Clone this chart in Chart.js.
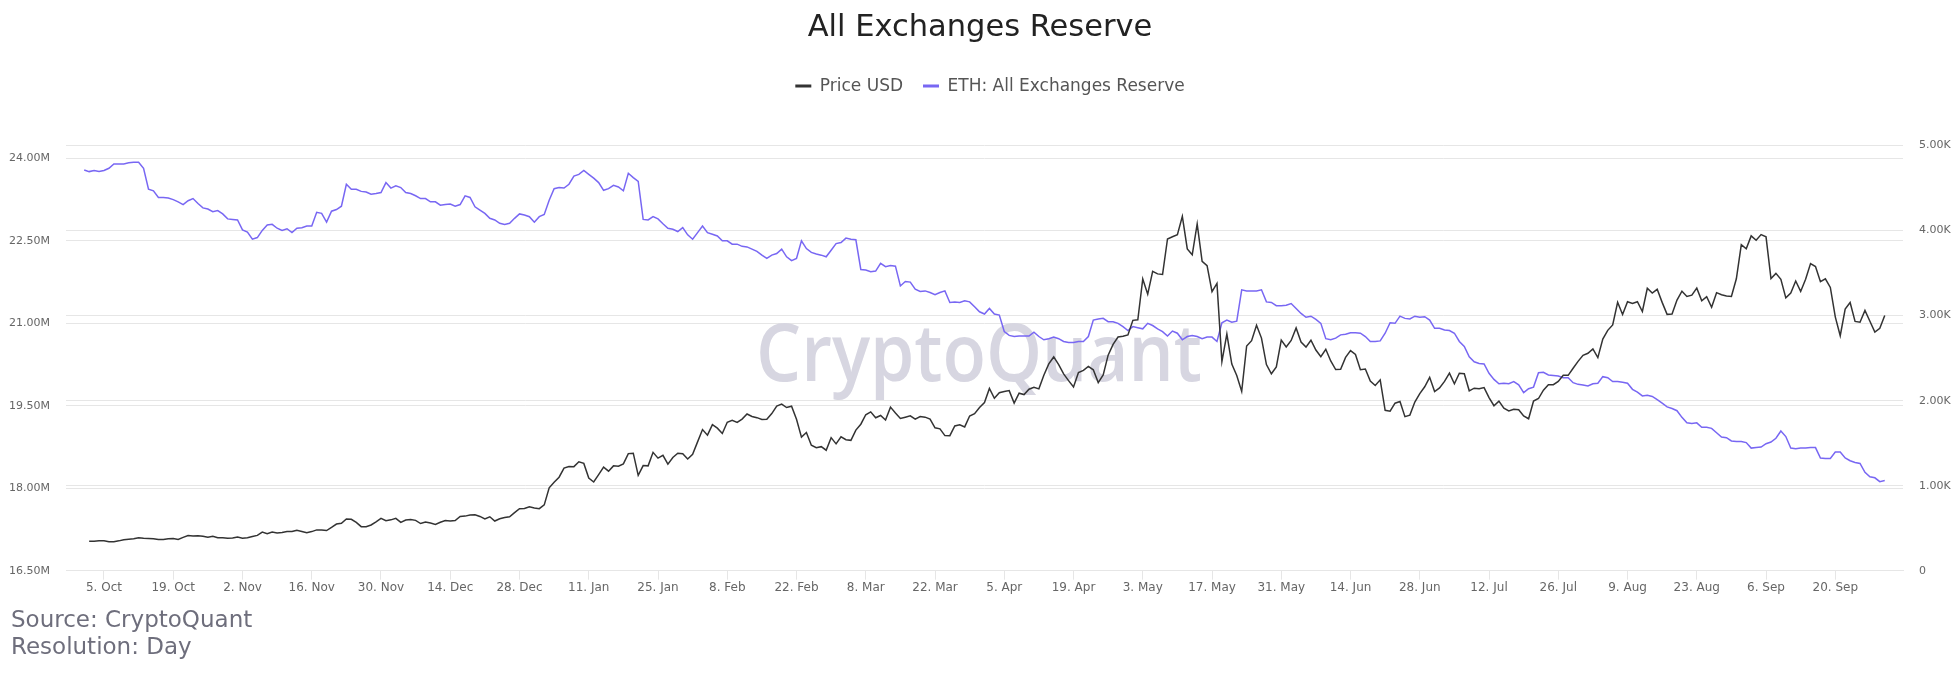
<!DOCTYPE html>
<html lang="en">
<head>
<meta charset="UTF-8">
<title>All Exchanges Reserve</title>
<style>
    html, body {
        margin: 0;
        padding: 0;
        background-color: #ffffff;
    }
    #wrap {
        width: 1960px;
        height: 680px;
    }
</style>
</head>
<body>
<div id="wrap"><canvas id="reserveChart" width="1960" height="680"></canvas></div>

<script src="https://cdn.jsdelivr.net/npm/chart.js"></script>
<script>
// day 0 = 1 Oct 2020, one value per day up to 30 Sep 2021
const tickDays = [4, 18, 32, 46, 60, 74, 88, 102, 116, 130, 144, 158, 172,
    186, 200, 214, 228, 242, 256, 270, 284, 298, 312, 326, 340, 354];
const tickLabels = ['5. Oct', '19. Oct', '2. Nov', '16. Nov', '30. Nov', '14. Dec', '28. Dec',
    '11. Jan', '25. Jan', '8. Feb', '22. Feb', '8. Mar', '22. Mar', '5. Apr', '19. Apr',
    '3. May', '17. May', '31. May', '14. Jun', '28. Jun', '12. Jul', '26. Jul',
    '9. Aug', '23. Aug', '6. Sep', '20. Sep'];

const reserveTicks = [16.5, 18, 19.5, 21, 22.5, 24];   // millions ETH
const priceTicks = [0, 1000, 2000, 3000, 4000, 5000];   // USD

// ETH price, USD
const priceUsd = [
    null, 346, 347, 353, 353, 341, 341, 351, 365, 370,
    375, 387, 381, 379, 377, 366, 368, 377, 379, 368,
    392, 414, 409, 412, 406, 393, 404, 388, 387, 383,
    386, 396, 383, 388, 402, 415, 454, 435, 454, 444,
    449, 462, 462, 475, 461, 447, 460, 480, 479, 472,
    509, 549, 558, 609, 604, 568, 518, 518, 538, 575,
    615, 587, 598, 616, 569, 596, 601, 592, 555, 573,
    560, 545, 569, 590, 586, 589, 637, 642, 654, 658,
    638, 608, 634, 584, 611, 626, 635, 683, 730, 731,
    751, 737, 730, 774, 975, 1040, 1100, 1207, 1225, 1224,
    1281, 1262, 1090, 1043, 1130, 1218, 1171, 1233, 1230, 1257,
    1377, 1382, 1121, 1236, 1233, 1392, 1324, 1357, 1253, 1332,
    1382, 1376, 1314, 1369, 1515, 1660, 1594, 1718, 1677, 1614,
    1746, 1768, 1744, 1783, 1843, 1814, 1800, 1779, 1781, 1848,
    1937, 1960, 1919, 1935, 1781, 1571, 1626, 1475, 1446, 1459,
    1417, 1565, 1492, 1575, 1541, 1533, 1654, 1723, 1834, 1868,
    1799, 1826, 1772, 1924, 1855, 1791, 1806, 1822, 1782, 1814,
    1806, 1783, 1681, 1669, 1589, 1588, 1702, 1716, 1691, 1819,
    1846, 1919, 1977, 2143, 2028, 2093, 2107, 2118, 1971, 2088,
    2072, 2135, 2158, 2139, 2299, 2432, 2514, 2423, 2314, 2236,
    2161, 2330, 2357, 2403, 2363, 2213, 2303, 2535, 2662, 2748,
    2757, 2773, 2945, 2952, 3431, 3253, 3522, 3491, 3484, 3902,
    3928, 3952, 4168, 3785, 3716, 4079, 3638, 3587, 3283, 3380,
    2460, 2784, 2430, 2296, 2109, 2643, 2706, 2888, 2736, 2424,
    2316, 2396, 2712, 2632, 2708, 2855, 2689, 2630, 2711, 2595,
    2517, 2604, 2467, 2366, 2370, 2509, 2589, 2544, 2365, 2372,
    2231, 2179, 2245, 1887, 1876, 1970, 1990, 1812, 1830, 1983,
    2083, 2163, 2275, 2107, 2150, 2226, 2323, 2198, 2323, 2316,
    2116, 2147, 2139, 2154, 2036, 1940, 1995, 1911, 1880, 1898,
    1894, 1820, 1787, 1995, 2025, 2124, 2186, 2188, 2227, 2299,
    2298, 2381, 2462, 2534, 2557, 2608, 2506, 2725, 2827, 2890,
    3157, 3013, 3163, 3142, 3164, 3049, 3322, 3266, 3310, 3156,
    3015, 3020, 3183, 3287, 3225, 3241, 3323, 3174, 3224, 3099,
    3270, 3245, 3230, 3226, 3433, 3834, 3787, 3938, 3887, 3953,
    3927, 3436, 3497, 3427, 3209, 3266, 3407, 3285, 3429, 3612,
    3578, 3400, 3433, 3331, 2986, 2764, 3078, 3155, 2932, 2923,
    3062, 2934, 2806, 2852, 3001
];

// ETH held on all exchanges, millions
const reserveM = [
    23.79, 23.76, 23.78, 23.76, 23.78, 23.82, 23.90, 23.90, 23.90, 23.92,
    23.93, 23.93, 23.82, 23.44, 23.41, 23.29, 23.29, 23.28, 23.25, 23.21,
    23.16, 23.23, 23.27, 23.18, 23.10, 23.08, 23.03, 23.05, 22.99, 22.90,
    22.89, 22.88, 22.70, 22.66, 22.53, 22.56, 22.69, 22.79, 22.80, 22.73,
    22.69, 22.72, 22.65, 22.73, 22.74, 22.77, 22.77, 23.02, 23.00, 22.84,
    23.04, 23.07, 23.13, 23.53, 23.44, 23.44, 23.40, 23.39, 23.35, 23.36,
    23.38, 23.56, 23.46, 23.50, 23.47, 23.38, 23.36, 23.32, 23.27, 23.27,
    23.21, 23.21, 23.15, 23.16, 23.17, 23.13, 23.16, 23.32, 23.29, 23.12,
    23.06, 23.00, 22.91, 22.88, 22.82, 22.80, 22.82, 22.91, 22.99, 22.97,
    22.94, 22.84, 22.94, 22.98, 23.24, 23.45, 23.47, 23.46, 23.53, 23.68,
    23.71, 23.78, 23.71, 23.64, 23.56, 23.42, 23.45, 23.51, 23.48, 23.41,
    23.73, 23.65, 23.58, 22.89, 22.88, 22.94, 22.90, 22.81, 22.73, 22.71,
    22.67, 22.74, 22.61, 22.53, 22.65, 22.77, 22.65, 22.62, 22.59, 22.50,
    22.50, 22.44, 22.44, 22.40, 22.39, 22.35, 22.31, 22.24, 22.18, 22.24,
    22.27, 22.35, 22.21, 22.14, 22.18, 22.50, 22.36, 22.29, 22.26, 22.24,
    22.21, 22.33, 22.45, 22.47, 22.55, 22.53, 22.52, 21.98, 21.97, 21.94,
    21.95, 22.09, 22.03, 22.05, 22.04, 21.68, 21.76, 21.75, 21.62, 21.58,
    21.59, 21.56, 21.52, 21.56, 21.59, 21.38, 21.39, 21.38, 21.41, 21.39,
    21.30, 21.21, 21.17, 21.27, 21.17, 21.15, 20.85, 20.78, 20.76, 20.77,
    20.77, 20.77, 20.84, 20.76, 20.70, 20.72, 20.75, 20.72, 20.67, 20.65,
    20.65, 20.67, 20.67, 20.76, 21.06, 21.08, 21.09, 21.03, 21.03, 21.00,
    20.94, 20.87, 20.94, 20.92, 20.90, 21.00, 20.96, 20.90, 20.85, 20.77,
    20.86, 20.82, 20.70, 20.76, 20.78, 20.76, 20.72, 20.75, 20.75, 20.67,
    21.01, 21.06, 21.02, 21.04, 21.61, 21.59, 21.59, 21.59, 21.61, 21.39,
    21.38, 21.32, 21.32, 21.33, 21.36, 21.27, 21.18, 21.11, 21.13, 21.07,
    21.00, 20.72, 20.70, 20.73, 20.79, 20.80, 20.83, 20.83, 20.82, 20.76,
    20.67, 20.67, 20.68, 20.82, 21.01, 21.00, 21.13, 21.09, 21.08, 21.13,
    21.11, 21.12, 21.06, 20.91, 20.91, 20.88, 20.87, 20.82, 20.67, 20.58,
    20.39, 20.30, 20.27, 20.26, 20.09, 19.98, 19.90, 19.91, 19.90, 19.94,
    19.88, 19.74, 19.81, 19.84, 20.10, 20.11, 20.06, 20.05, 20.04, 20.01,
    20.01, 19.92, 19.89, 19.88, 19.86, 19.90, 19.91, 20.03, 20.01, 19.94,
    19.94, 19.93, 19.91, 19.80, 19.75, 19.68, 19.69, 19.67, 19.61, 19.55,
    19.48, 19.45, 19.41, 19.29, 19.19, 19.18, 19.19, 19.11, 19.11, 19.09,
    19.01, 18.93, 18.92, 18.86, 18.85, 18.85, 18.83, 18.73, 18.74, 18.75,
    18.81, 18.84, 18.91, 19.04, 18.94, 18.73, 18.72, 18.73, 18.73, 18.74,
    18.74, 18.55, 18.54, 18.54, 18.66, 18.66, 18.55, 18.50, 18.47, 18.45,
    18.29, 18.21, 18.19, 18.12, 18.14
];

const sourceLines = ['Source: CryptoQuant', 'Resolution: Day'];
const watermarkText = 'CryptoQuant';

Chart.defaults.font.family = '"DejaVu Sans", sans-serif';

// extra room between legend and plot, and nudge the legend a bit right
const legendGap = {
    id: 'legendGap',
    beforeInit(chart) {
        const fit = chart.legend.fit;
        chart.legend.fit = function () {
            fit.call(this);
            this.height += 41;
        };
    },
    afterLayout(chart) {
        chart.legend.left += 10;
        chart.legend.right += 10;
    }
};

// faint logo behind the lines
const watermark = {
    id: 'watermark',
    beforeDatasetsDraw(chart) {
        const ctx = chart.ctx;
        ctx.save();
        ctx.font = '600 80px "Open Sans", sans-serif';
        const w = ctx.measureText(watermarkText).width;
        ctx.translate(979, 381);
        ctx.scale(446 / w, 1);
        ctx.fillStyle = '#d7d6e1';
        ctx.textAlign = 'center';
        ctx.textBaseline = 'alphabetic';
        ctx.fillText(watermarkText, 0, 0);
        ctx.restore();
    }
};

// source note under the chart
const sourceNote = {
    id: 'sourceNote',
    afterDraw(chart) {
        const ctx = chart.ctx;
        ctx.save();
        ctx.font = '23px "DejaVu Sans", sans-serif';
        ctx.fillStyle = '#6e6e7c';
        ctx.textBaseline = 'middle';
        ctx.fillText(sourceLines[0], 11, 621);
        ctx.fillText(sourceLines[1], 11, 648);
        ctx.restore();
    }
};

const ctx = document.getElementById('reserveChart').getContext('2d');
new Chart(ctx, {
    type: 'line',
    data: {
        datasets: [{
            label: 'Price USD',
            data: priceUsd.map((v, i) => ({ x: i, y: v })),
            yAxisID: 'yPrice',
            borderColor: '#333333',
            backgroundColor: '#333333',
            borderWidth: 1.5,
            pointRadius: 0,
            tension: 0
        }, {
            label: 'ETH: All Exchanges Reserve',
            data: reserveM.map((v, i) => ({ x: i, y: v })),
            yAxisID: 'yReserve',
            borderColor: '#7867f3',
            backgroundColor: '#7867f3',
            borderWidth: 1.5,
            pointRadius: 0,
            tension: 0
        }]
    },
    options: {
        responsive: false,
        animation: false,
        layout: { padding: 0 },
        plugins: {
            title: {
                display: true,
                text: 'All Exchanges Reserve',
                color: '#222222',
                font: { size: 30.5, weight: 'normal' },
                padding: { top: 9.3, bottom: 11.7 }
            },
            legend: {
                position: 'top',
                align: 'center',
                labels: {
                    usePointStyle: true,
                    pointStyle: 'line',
                    pointStyleWidth: 16,
                    color: '#555555',
                    font: { size: 17 },
                    padding: 20,
                    generateLabels: chart => Chart.defaults.plugins.legend.labels.generateLabels(chart)
                        .map(item => Object.assign(item, { lineWidth: 3, pointStyle: 'line' }))
                }
            },
            tooltip: { enabled: false }
        },
        scales: {
            x: {
                type: 'linear',
                min: -3.68,
                max: 367.69,
                afterBuildTicks: scale => { scale.ticks = tickDays.map(v => ({ value: v })); },
                afterFit: scale => { scale.height = 109.3; },
                grid: { drawOnChartArea: false, tickLength: 9, color: '#e6e6e6' },
                border: { color: '#e6e6e6' },
                ticks: {
                    autoSkip: false,
                    maxRotation: 0,
                    padding: 1,
                    color: '#666666',
                    font: { size: 12 },
                    callback: (v, i) => tickLabels[i]
                }
            },
            yReserve: {
                position: 'left',
                min: 16.5,
                max: 24.233,
                afterBuildTicks: scale => { scale.ticks = reserveTicks.map(v => ({ value: v })); },
                afterFit: scale => { scale.width = 66; },
                grid: { color: '#e6e6e6', drawTicks: false },
                border: { display: false },
                ticks: {
                    padding: 16,
                    color: '#666666',
                    font: { size: 11 },
                    callback: v => v.toFixed(2) + 'M'
                }
            },
            yPrice: {
                position: 'right',
                min: 0,
                max: 5000,
                afterBuildTicks: scale => { scale.ticks = priceTicks.map(v => ({ value: v })); },
                afterFit: scale => { scale.width = 57; },
                grid: { color: '#e6e6e6', drawTicks: false },
                border: { display: false },
                ticks: {
                    padding: 16,
                    color: '#666666',
                    font: { size: 11 },
                    callback: v => v === 0 ? '0' : (v / 1000).toFixed(2) + 'K'
                }
            }
        }
    },
    plugins: [legendGap, watermark, sourceNote]
});
</script>
</body>
</html>
